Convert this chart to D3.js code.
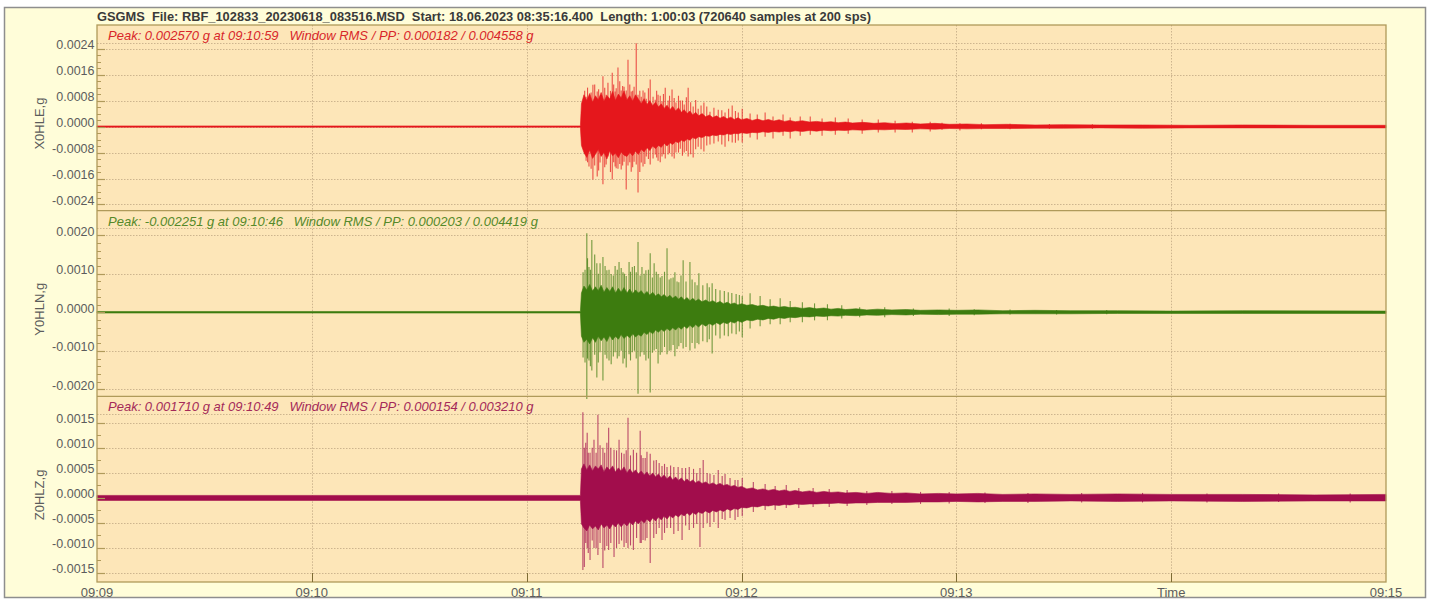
<!DOCTYPE html>
<html><head><meta charset="utf-8">
<script src="https://cdn.jsdelivr.net/npm/d3@7"></script>
<style>body{margin:0;background:#fff;} svg{display:block;font-family:"Liberation Sans",Arial,sans-serif;}</style>
</head><body><svg id="c" width="1434" height="600"></svg>
<script>
// ---------------- DATA ----------------
const titleText = "GSGMS  File: RBF_102833_20230618_083516.MSD  Start: 18.06.2023 08:35:16.400  Length: 1:00:03 (720640 samples at 200 sps)";
const channelNames = ["X0HLE,g", "Y0HLN,g", "Z0HLZ,g"];
const headerTexts = [
  "Peak: 0.002570 g at 09:10:59   Window RMS / PP: 0.000182 / 0.004558 g",
  "Peak: -0.002251 g at 09:10:46   Window RMS / PP: 0.000203 / 0.004419 g",
  "Peak: 0.001710 g at 09:10:49   Window RMS / PP: 0.000154 / 0.003210 g"
];
// time axis: seconds after 09:09:00
const xTickSeconds = [0, 60, 120, 180, 240, 300, 360];
const xTickLabels = ["09:09", "09:10", "09:11", "09:12", "09:13", "Time", "09:15"];

const yTicksX = [0.0024, 0.0016, 0.0008, 0, -0.0008, -0.0016, -0.0024];
const yLabelsX = ["0.0024", "0.0016", "0.0008", "0.0000", "-0.0008", "-0.0016", "-0.0024"];
const yTicksY = [0.002, 0.001, 0, -0.001, -0.002];
const yLabelsY = ["0.0020", "0.0010", "0.0000", "-0.0010", "-0.0020"];
const yTicksZ = [0.0015, 0.001, 0.0005, 0, -0.0005, -0.001, -0.0015];
const yLabelsZ = ["0.0015", "0.0010", "0.0005", "0.0000", "-0.0005", "-0.0010", "-0.0015"];

// dense waveform envelopes: [seconds after 09:09, max g, min g]
const envX = [
  [0,0.00002,-0.00002],[135.0,0.00002,-0.00002],[135.3,0.0007,-0.00058],[136.0,0.00098,-0.0008],[136.8,0.0008,-0.00095],
  [137.6,0.00102,-0.00072],[138.4,0.00075,-0.00098],[139.2,0.00095,-0.00085],[140.0,0.00082,-0.0007],[140.8,0.00105,-0.00092],
  [141.6,0.00078,-0.0008],[142.4,0.00096,-0.001],[143.2,0.00085,-0.00075],[144.0,0.00108,-0.0009],[144.8,0.0008,-0.00082],
  [145.6,0.001,-0.00096],[146.4,0.00088,-0.00078],[147.2,0.0011,-0.00088],[148.0,0.00082,-0.00092],[148.8,0.00095,-0.0008],
  [149.6,0.00078,-0.0009],[150.4,0.00098,-0.00076],[151.2,0.00085,-0.00086],[152.0,0.0007,-0.0007],[152.8,0.00086,-0.00078],
  [153.6,0.00068,-0.00065],[154.4,0.0008,-0.00074],[155.2,0.00064,-0.0006],[156.0,0.00075,-0.00068],[156.8,0.0006,-0.00058],
  [157.6,0.0007,-0.00064],[158.4,0.00056,-0.00052],[159.2,0.00066,-0.0006],[160.0,0.00052,-0.0005],[160.8,0.00062,-0.00055],
  [161.6,0.00048,-0.00046],[162.4,0.00058,-0.0005],[163.2,0.00044,-0.00042],[164.0,0.00052,-0.00046],[164.8,0.0004,-0.00038],
  [165.6,0.00048,-0.00042],[166.4,0.00036,-0.00034],[167.2,0.00044,-0.00038],[168.0,0.00033,-0.00031],[169.0,0.0004,-0.00034],
  [170.0,0.0003,-0.00028],[171.0,0.00036,-0.0003],[172.0,0.00028,-0.00026],[173.0,0.00033,-0.00028],[174.0,0.00026,-0.00024],
  [175.0,0.00031,-0.00026],[176.0,0.00024,-0.00022],[177.0,0.00029,-0.00024],[178.0,0.00022,-0.00021],[179.0,0.00027,-0.00022],
  [180.0,0.00021,-0.00019],[181.5,0.00025,-0.00021],[183.0,0.00019,-0.00018],[184.5,0.00023,-0.00019],[186.0,0.00018,-0.00016],
  [187.5,0.00022,-0.00018],[189.0,0.00017,-0.00015],[190.5,0.00021,-0.00017],[192.0,0.00016,-0.00014],[193.5,0.00019,-0.00016],
  [195.0,0.00015,-0.00013],[197.0,0.00018,-0.00015],[199.0,0.00014,-0.00012],[201.0,0.00016,-0.00014],[203.0,0.00013,-0.00011],
  [205.0,0.00015,-0.00013],[207.0,0.00012,-0.00011],[209.0,0.00014,-0.00012],[211.0,0.00011,-0.0001],[214.0,0.00013,-0.00011],
  [217.0,0.0001,-0.00009],[220.0,0.00012,-0.0001],[223.0,0.00009,-0.00008],[226.0,0.00011,-0.00009],[230.0,0.00008,-0.00007],
  [234.0,0.0001,-0.00008],[238.0,0.00007,-0.00006],[243.0,0.00008,-0.00007],[248.0,0.00006,-0.00006],[254.0,0.00007,-0.00006],
  [262.0,0.00005,-0.00005],[270.0,0.00006,-0.00005],[280.0,0.00005,-0.00004],[292.0,0.00005,-0.00005],[305.0,0.00004,-0.00004],
  [320.0,0.00005,-0.00004],[340.0,0.00004,-0.00004],[360.0,0.00004,-0.00004]
];
const spikesX = [
  [135.75,0.00074,-0.00062],[136.6,0.00092,-0.00105],[137.4,0.00086,-0.00123],[138.5,0.00129,-0.00163],
  [139.7,0.00108,-0.00154],[140.5,0.00092,-0.00111],[141.3,0.00155,-0.00178],[142.2,0.00098,-0.00117],
  [142.7,0.00135,-0.00092],[143.9,0.00166,-0.00163],[144.7,0.00108,-0.00123],[145.5,0.00182,-0.0013],
  [146.4,0.00111,-0.00132],[147.2,0.00123,-0.00108],[147.8,0.00111,-0.00194],[148.3,0.00206,-0.0012],
  [149.2,0.00108,-0.00139],[150.0,0.00123,-0.00108],[150.6,0.00257,-0.00117],[151.1,0.00098,-0.00203],
  [152.0,0.00092,-0.00111],[152.5,0.00111,-0.00123],[153.4,0.00086,-0.00092],[154.5,0.00145,-0.00117],
  [155.3,0.00092,-0.00098],[155.9,0.00083,-0.00086],[156.7,0.00098,-0.00105],[157.8,0.00077,-0.00092],
  [158.7,0.0012,-0.00098],[159.5,0.0008,-0.00086],[160.6,0.00114,-0.00092],[161.7,0.00074,-0.0008],
  [162.9,0.0008,-0.00068],[164.0,0.00068,-0.0008],[165.1,0.0012,-0.00092],[166.5,0.00062,-0.00095],
  [167.9,0.00055,-0.00062],[169.5,0.00074,-0.00077],[171.2,0.00046,-0.00055],[173.5,0.00052,-0.00046],
  [175.4,0.00043,-0.00062],[177.4,0.00065,-0.00049],[179.1,0.00043,-0.00043],[180.2,0.00055,-0.00049],
  [182.4,0.0004,-0.00034],[184.4,0.00037,-0.0004],[186.6,0.00043,-0.00031],[188.8,0.00031,-0.00037],
  [191.6,0.00037,-0.00028],[193.6,0.00028,-0.00037],[196.4,0.00031,-0.00028],[199.2,0.00031,-0.00025],
  [202.5,0.00025,-0.00028],[206.2,0.00028,-0.00025],[209.8,0.00025,-0.00022],[213.7,0.00022,-0.00022],
  [218.2,0.00022,-0.00018],[222.9,0.00018,-0.00018],[227.7,0.00015,-0.00018],[232.7,0.00015,-0.00015],
  [236,0.00012,-0.0001],[241,0.0001,-0.00012],[247,0.0001,-0.00008],[255,0.00009,-0.00008],[266,0.00008,-0.00007],[278,0.00007,-0.00007],
  [136.2,0.0011,-0.00085],[137.0,0.0012,-0.0011],[138.0,0.00105,-0.0013],[139.0,0.0013,-0.0012],[140.1,0.00115,-0.00135],
  [141.8,0.0012,-0.00125],[143.4,0.0011,-0.0014],[144.3,0.0013,-0.0011],[145.0,0.00118,-0.00128],[146.0,0.0014,-0.00115],
  [146.8,0.00125,-0.0012],[148.8,0.0013,-0.0011],[149.6,0.0011,-0.00125],[151.6,0.0011,-0.0014],[153.0,0.00105,-0.00115],
  [154.0,0.00118,-0.001],[156.3,0.0011,-0.00095],[157.3,0.00095,-0.0011],[158.2,0.001,-0.00085],[159.9,0.00095,-0.00082],
  [161.2,0.00088,-0.00098],[162.4,0.00095,-0.0008],[163.5,0.0008,-0.0009],[164.6,0.0009,-0.00075],[165.8,0.00075,-0.00085],
  [167.2,0.00082,-0.0007],[168.7,0.00065,-0.0007],[170.3,0.00062,-0.00058],[172.3,0.00058,-0.00052],[174.5,0.0005,-0.00055],
  [176.4,0.00055,-0.00045],[178.3,0.00048,-0.0005]
];

const envY = [
  [0,0.00002,-0.00002],[135.0,0.00002,-0.00002],[135.3,0.0005,-0.00062],[136.0,0.00068,-0.00078],[136.8,0.00058,-0.0007],
  [137.6,0.00072,-0.00082],[138.4,0.00055,-0.00066],[139.2,0.00066,-0.00078],[140.0,0.00056,-0.00062],[140.8,0.0007,-0.00074],
  [141.6,0.00052,-0.00064],[142.4,0.00064,-0.00076],[143.2,0.00054,-0.0006],[144.0,0.00066,-0.00072],[144.8,0.0005,-0.00062],
  [145.6,0.00062,-0.0007],[146.4,0.00052,-0.00058],[147.2,0.00064,-0.00068],[148.0,0.0005,-0.0006],[148.8,0.0006,-0.00066],
  [149.6,0.00048,-0.00056],[150.4,0.00058,-0.00064],[151.2,0.0005,-0.00058],[152.0,0.00056,-0.00062],[152.8,0.00046,-0.00052],
  [153.6,0.00054,-0.00058],[154.4,0.00044,-0.0005],[155.2,0.00052,-0.00056],[156.0,0.00042,-0.00046],[156.8,0.00048,-0.00052],
  [157.6,0.0004,-0.00044],[158.4,0.00046,-0.0005],[159.2,0.00038,-0.00042],[160.0,0.00044,-0.00048],[160.8,0.00036,-0.0004],
  [161.6,0.00042,-0.00046],[162.4,0.00034,-0.00038],[163.2,0.0004,-0.00044],[164.0,0.00032,-0.00036],[164.8,0.00038,-0.00042],
  [165.6,0.0003,-0.00034],[166.4,0.00036,-0.0004],[167.2,0.00029,-0.00032],[168.0,0.00034,-0.00038],[169.0,0.00027,-0.0003],
  [170.0,0.00032,-0.00036],[171.0,0.00026,-0.00029],[172.0,0.0003,-0.00034],[173.0,0.00024,-0.00027],[174.0,0.00028,-0.00032],
  [175.0,0.00022,-0.00026],[176.0,0.00026,-0.0003],[177.0,0.00021,-0.00024],[178.0,0.00024,-0.00028],[179.0,0.00019,-0.00022],
  [180.0,0.00022,-0.00026],[181.5,0.00018,-0.0002],[183.0,0.0002,-0.00022],[184.5,0.00016,-0.00018],[186.0,0.00018,-0.0002],
  [187.5,0.00014,-0.00016],[189.0,0.00016,-0.00018],[190.5,0.00013,-0.00014],[192.0,0.00015,-0.00016],[193.5,0.00012,-0.00013],
  [195.0,0.00013,-0.00014],[197.0,0.0001,-0.00011],[199.0,0.00012,-0.00012],[201.0,0.00009,-0.0001],[203.0,0.00011,-0.00011],
  [205.0,0.00008,-0.00009],[207.0,0.0001,-0.0001],[209.0,0.00007,-0.00008],[212.0,0.00009,-0.00009],[215.0,0.00006,-0.00007],
  [218.0,0.00008,-0.00008],[222.0,0.00006,-0.00006],[226.0,0.00007,-0.00007],[230.0,0.00005,-0.00005],[235.0,0.00006,-0.00006],
  [240.0,0.00005,-0.00005],[246.0,0.00006,-0.00005],[253.0,0.00004,-0.00004],[262.0,0.00005,-0.00004],[272.0,0.00004,-0.00004],
  [285.0,0.00004,-0.00003],[300.0,0.00003,-0.00003],[320.0,0.00004,-0.00003],[360.0,0.00003,-0.00003]
];
const spikesY = [
  [135.75,0.00104,-0.00117],[136.8,0.00205,-0.00225],[137.4,0.00117,-0.00125],[138.2,0.00187,-0.00151],
  [139.6,0.00127,-0.00169],[140.5,0.00127,-0.00104],[141.3,0.00143,-0.00177],[142.4,0.00109,-0.0012],
  [143.6,0.00099,-0.00135],[144.7,0.0012,-0.00104],[145.8,0.0013,-0.00114],[146.9,0.00104,-0.00133],
  [147.8,0.00094,-0.00143],[148.6,0.0013,-0.00109],[149.5,0.00117,-0.00104],[150.6,0.00104,-0.0012],
  [151.1,0.00182,-0.00211],[152.2,0.00117,-0.00104],[153.3,0.00109,-0.00125],[154.5,0.00153,-0.00208],
  [155.6,0.00127,-0.00099],[156.7,0.00099,-0.00133],[157.8,0.00094,-0.00104],[159.2,0.00166,-0.00109],
  [160.3,0.00088,-0.00099],[161.4,0.00104,-0.00114],[162.5,0.00078,-0.00088],[163.7,0.00135,-0.00094],
  [165.6,0.0013,-0.00099],[167.0,0.00078,-0.00094],[168.1,0.00101,-0.00083],[170.4,0.00075,-0.00078],
  [171.8,0.00075,-0.00107],[174.0,0.00057,-0.00068],[176.3,0.00052,-0.00062],[178.5,0.00047,-0.00057],
  [180.2,0.00042,-0.00065],[182.4,0.00049,-0.00042],[185.2,0.00042,-0.00036],[188.0,0.00034,-0.00031],
  [190.8,0.00036,-0.00031],[193.6,0.00029,-0.00026],[197.0,0.00026,-0.00026],[200.4,0.00023,-0.00021],
  [204.0,0.00021,-0.00021],[208.0,0.00018,-0.00016],[213.0,0.00013,-0.00013],[220.0,0.00013,-0.00013],
  [228.0,0.0001,-0.0001],[238.0,0.0001,-0.0001],
  [245,0.00008,-0.00008],[255,0.00007,-0.00006],[268,0.00006,-0.00006],[282,0.00006,-0.00005],
  [136.3,0.0011,-0.0013],[137.0,0.0014,-0.0012],[137.8,0.0011,-0.0014],[139.0,0.0015,-0.0011],[140.0,0.001,-0.0013],
  [141.9,0.0012,-0.0011],[143.0,0.0011,-0.00125],[144.2,0.00095,-0.00115],[145.3,0.0011,-0.0012],[146.4,0.00115,-0.001],
  [147.3,0.001,-0.0012],[149.0,0.00105,-0.00125],[150.1,0.0012,-0.001],[151.7,0.00095,-0.00115],[152.8,0.001,-0.0011],
  [154.0,0.0011,-0.0012],[155.1,0.0009,-0.00105],[156.2,0.00105,-0.00095],[157.3,0.0009,-0.0011],[158.5,0.00105,-0.0009],
  [159.8,0.00085,-0.001],[160.9,0.0009,-0.00085],[162.0,0.0008,-0.00095],[163.1,0.00095,-0.0008],[164.5,0.0008,-0.0009],
  [166.2,0.00085,-0.0008],[167.6,0.0007,-0.0008],[169.2,0.0007,-0.00075],[171.0,0.00065,-0.0007],[172.8,0.0006,-0.0006],
  [175.2,0.00055,-0.0006],[177.3,0.0005,-0.00055],[179.4,0.00045,-0.0005]
];

const envZ = [
  [0,0.00005,-0.00005],[135.0,0.00005,-0.00005],[135.3,0.00058,-0.00052],[136.0,0.00068,-0.0006],[136.8,0.00056,-0.00066],
  [137.6,0.00066,-0.00054],[138.4,0.00054,-0.00062],[139.2,0.00064,-0.00056],[140.0,0.00058,-0.00064],[140.8,0.00066,-0.00052],
  [141.6,0.00052,-0.0006],[142.4,0.00062,-0.00054],[143.2,0.00056,-0.00062],[144.0,0.00064,-0.00052],[144.8,0.00052,-0.00058],
  [145.6,0.0006,-0.0005],[146.4,0.00054,-0.00058],[147.2,0.00062,-0.0005],[148.0,0.0005,-0.00056],[148.8,0.00058,-0.00048],
  [149.6,0.0005,-0.00054],[150.4,0.00056,-0.00046],[151.2,0.00048,-0.00052],[152.0,0.00054,-0.00044],[152.8,0.00046,-0.0005],
  [153.6,0.00052,-0.00042],[154.4,0.00044,-0.00048],[155.2,0.0005,-0.0004],[156.0,0.00042,-0.00046],[156.8,0.00048,-0.00038],
  [157.6,0.0004,-0.00044],[158.4,0.00046,-0.00036],[159.2,0.00038,-0.00042],[160.0,0.00044,-0.00035],[160.8,0.00036,-0.0004],
  [161.6,0.00042,-0.00034],[162.4,0.00035,-0.00038],[163.2,0.0004,-0.00032],[164.0,0.00033,-0.00036],[164.8,0.00038,-0.0003],
  [165.6,0.00032,-0.00035],[166.4,0.00036,-0.00029],[167.2,0.0003,-0.00033],[168.0,0.00034,-0.00028],[169.0,0.00029,-0.00031],
  [170.0,0.00032,-0.00026],[171.0,0.00027,-0.0003],[172.0,0.0003,-0.00025],[173.0,0.00026,-0.00028],[174.0,0.00029,-0.00024],
  [175.0,0.00025,-0.00027],[176.0,0.00027,-0.00022],[177.0,0.00023,-0.00025],[178.0,0.00025,-0.00021],[179.0,0.00021,-0.00023],
  [180.0,0.00023,-0.00019],[181.5,0.00018,-0.0002],[183.0,0.0002,-0.00017],[184.5,0.00016,-0.00018],[186.0,0.00018,-0.00015],
  [187.5,0.00015,-0.00016],[189.0,0.00017,-0.00014],[190.5,0.00014,-0.00015],[192.0,0.00016,-0.00013],[193.5,0.00013,-0.00014],
  [195.0,0.00015,-0.00012],[197.0,0.00012,-0.00013],[199.0,0.00014,-0.00012],[201.0,0.00011,-0.00012],[203.0,0.00013,-0.00011],
  [205.0,0.00011,-0.00011],[207.0,0.00012,-0.0001],[209.0,0.0001,-0.00011],[212.0,0.00011,-0.0001],[215.0,0.00009,-0.0001],
  [218.0,0.00011,-0.00009],[222.0,0.00009,-0.00009],[226.0,0.0001,-0.00009],[230.0,0.00008,-0.00008],[235.0,0.00009,-0.00008],
  [240.0,0.00008,-0.00007],[246.0,0.00009,-0.00008],[253.0,0.00007,-0.00007],[262.0,0.00008,-0.00007],[272.0,0.00007,-0.00006],
  [285.0,0.00008,-0.00007],[300.0,0.00007,-0.00006],[320.0,0.00007,-0.00007],[340.0,0.00006,-0.00006],[360.0,0.00007,-0.00006]
];
const spikesZ = [
  [135.7,0.00171,-0.00144],[136.1,0.001,-0.00138],[136.9,0.0013,-0.001],[137.7,0.0009,-0.00124],
  [138.8,0.00116,-0.001],[139.9,0.00166,-0.00114],[141.3,0.001,-0.0014],[142.4,0.0011,-0.00096],
  [142.9,0.0014,-0.00104],[144.4,0.00096,-0.00118],[145.8,0.00116,-0.00092],[147.2,0.00088,-0.00098],
  [148.3,0.0016,-0.001],[149.8,0.00096,-0.00104],[151.7,0.00134,-0.0009],[152.5,0.0008,-0.00084],
  [153.6,0.00092,-0.0008],[154.5,0.00088,-0.0013],[156.2,0.00076,-0.00072],[157.8,0.00064,-0.00084],
  [159.2,0.00062,-0.0006],[161.1,0.00062,-0.00072],[163.4,0.0006,-0.00084],[165.4,0.00062,-0.00064],
  [168.4,0.0006,-0.00098],[169.3,0.00076,-0.0006],[171.2,0.00048,-0.00058],[173.5,0.00056,-0.0006],
  [175.4,0.00048,-0.00044],[178.2,0.00036,-0.00044],[180.2,0.0004,-0.00036],[183.3,0.00032,-0.00028],
  [186.6,0.00028,-0.00024],[189.4,0.00024,-0.00024],[192.5,0.00026,-0.0002],[196.0,0.0002,-0.0002],
  [200.0,0.0002,-0.00018],[204.5,0.00018,-0.00018],[209.5,0.00016,-0.00016],[215.0,0.00014,-0.00014],
  [222.0,0.00014,-0.00012],[230.0,0.00012,-0.00012],
  [238,0.00012,-0.00011],[248,0.00011,-0.0001],[260,0.0001,-0.0001],[275,0.0001,-0.00009],[292,0.0001,-0.00009],
  [310,0.00009,-0.00009],[330,0.00009,-0.00008],[350,0.00009,-0.00009],
  [136.5,0.0011,-0.0009],[137.2,0.0009,-0.0011],[138.3,0.001,-0.00085],[139.4,0.0009,-0.001],[140.5,0.00105,-0.0009],
  [141.8,0.0009,-0.00105],[143.5,0.001,-0.0009],[145.1,0.00095,-0.001],[146.5,0.0009,-0.00085],[147.8,0.00095,-0.0009],
  [149.0,0.00085,-0.00095],[150.7,0.0009,-0.0008],[152.0,0.00085,-0.0009],[153.1,0.0008,-0.00085],[155.5,0.00075,-0.0008],
  [157.0,0.0007,-0.0006],[158.5,0.00068,-0.0007],[160.2,0.00065,-0.0006],[162.3,0.00062,-0.00066],[164.4,0.0006,-0.00055],
  [166.6,0.00058,-0.0006],[167.5,0.0005,-0.00052],[170.4,0.0005,-0.0005],[172.3,0.00046,-0.00048],[174.6,0.00044,-0.00042],
  [176.8,0.0004,-0.0004],[179.0,0.00036,-0.00038]
];

// ---------------- CHART ----------------
const panels = [
  {name: channelNames[0], header: headerTexts[0], env: envX, spikes: spikesX, ticks: yTicksX, labels: yLabelsX, minorStep: 0.0002, D: 0.00259, color: "#e5171c", textColor: "#d8262a"},
  {name: channelNames[1], header: headerTexts[1], env: envY, spikes: spikesY, ticks: yTicksY, labels: yLabelsY, minorStep: 0.0002, D: 0.00218, color: "#3d7c0f", textColor: "#55892a"},
  {name: channelNames[2], header: headerTexts[2], env: envZ, spikes: spikesZ, ticks: yTicksZ, labels: yLabelsZ, minorStep: 0.00025, D: 0.00168, color: "#a20d4c", textColor: "#a42a58"}
];

const svg = d3.select("#c");
const X0 = 97, X1 = 1386, TOP = 25, BOT = 582;
const PH = (BOT - TOP) / 3;
const frameCol = "#b09a5a", gridCol = "#cdb58e", labCol = "#5c5c5c";
const x = d3.scaleLinear().domain([0, 360]).range([X0, X1]);

svg.append("rect").attr("x", 4.5).attr("y", 7.5).attr("width", 1421).attr("height", 590)
  .attr("fill", "#fffdd9").attr("stroke", "#8e8e8e").attr("stroke-width", 1.5);
svg.append("text").attr("x", 97).attr("y", 20.5).attr("font-weight", "bold").attr("font-size", 12.85)
  .attr("fill", "#3a3a3a").style("white-space", "pre").text(titleText);
svg.append("rect").attr("x", X0).attr("y", TOP).attr("width", X1 - X0).attr("height", BOT - TOP).attr("fill", "#fde6b8");

panels.forEach((p, i) => {
  const top = TOP + i * PH, bot = top + PH;
  const y = d3.scaleLinear().domain([-p.D, p.D]).range([bot, top + 17.5]);
  const g = svg.append("g");
  // grid
  const hLines = [p.D].concat(p.ticks);
  g.selectAll("line.h").data(hLines).join("line")
    .attr("x1", X0).attr("x2", X1).attr("y1", d => Math.round(y(d)) + 0.5).attr("y2", d => Math.round(y(d)) + 0.5)
    .attr("stroke", gridCol).attr("stroke-dasharray", "1.5,1.5");
  g.selectAll("line.v").data(xTickSeconds.slice(1, -1)).join("line")
    .attr("x1", d => Math.round(x(d)) + 0.5).attr("x2", d => Math.round(x(d)) + 0.5).attr("y1", top).attr("y2", bot)
    .attr("stroke", gridCol).attr("stroke-dasharray", "1.5,1.5");
  // trace
  const area = d3.area().x(d => x(d[0])).y0(d => y(d[2])).y1(d => y(d[1]));
  g.selectAll("line.s").data(p.spikes).join("line")
    .attr("x1", d => x(d[0])).attr("x2", d => x(d[0])).attr("y1", d => y(d[1])).attr("y2", d => y(d[2]))
    .attr("stroke", p.color).attr("stroke-width", 1.1).attr("opacity", 0.72);
  g.append("path").datum(p.env).attr("d", area).attr("fill", p.color).attr("stroke", p.color).attr("stroke-width", 0.6);
  // header
  g.append("text").attr("x", 108).attr("y", top + 15).attr("font-size", 13).attr("font-style", "italic")
    .attr("fill", p.textColor).style("white-space", "pre").text(p.header);
  // y ticks
  const minor = d3.range(-Math.floor(p.D / p.minorStep), Math.floor(p.D / p.minorStep) + 1).map(k => k * p.minorStep);
  g.selectAll("line.mi").data(minor).join("line")
    .attr("x1", X0).attr("x2", X0 + 4).attr("y1", d => Math.round(y(d)) + 0.5).attr("y2", d => Math.round(y(d)) + 0.5)
    .attr("stroke", frameCol).attr("stroke-width", 1);
  g.selectAll("line.ma").data(p.ticks).join("line")
    .attr("x1", X0).attr("x2", X0 + 8).attr("y1", d => Math.round(y(d)) + 0.5).attr("y2", d => Math.round(y(d)) + 0.5)
    .attr("stroke", frameCol).attr("stroke-width", 1.2);
  g.selectAll("text.yl").data(p.ticks).join("text")
    .attr("x", 94.5).attr("y", d => y(d) + 0.5).attr("text-anchor", "end").attr("font-size", 12.5).attr("fill", labCol)
    .text((d, j) => p.labels[j]);
  g.append("text").attr("transform", `translate(44,${y(0) - 3}) rotate(-90)`).attr("text-anchor", "middle")
    .attr("font-size", 13).attr("fill", labCol).text(p.name);
  if (i > 0) g.append("line").attr("x1", X0).attr("x2", X1).attr("y1", top).attr("y2", top).attr("stroke", frameCol).attr("stroke-width", 1.2);
});

svg.append("rect").attr("x", X0).attr("y", TOP).attr("width", X1 - X0).attr("height", BOT - TOP)
  .attr("fill", "none").attr("stroke", frameCol).attr("stroke-width", 1.3);
svg.selectAll("line.xt").data(xTickSeconds.slice(1, -1)).join("line")
  .attr("x1", d => Math.round(x(d)) + 0.5).attr("x2", d => Math.round(x(d)) + 0.5).attr("y1", BOT - 9).attr("y2", BOT)
  .attr("stroke", "#7d6c35").attr("stroke-width", 1);
svg.selectAll("text.xl").data(xTickSeconds).join("text")
  .attr("x", d => x(d)).attr("y", 596.5).attr("text-anchor", "middle").attr("font-size", 13).attr("fill", labCol)
  .text((d, j) => xTickLabels[j]);
</script></body></html>
